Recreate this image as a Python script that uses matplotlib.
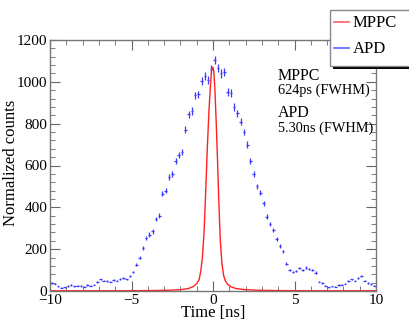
import numpy as np
import matplotlib
matplotlib.use('Agg')
import matplotlib.pyplot as plt
from matplotlib.patches import Rectangle
from matplotlib.lines import Line2D
from matplotlib.ticker import MultipleLocator

# APD: 0.2 ns bins
apd_t = np.arange(-9.9, 10.0, 0.2)
apd_y = [38, 35, 22, 15, 18, 24, 28, 22, 26, 24,
         20, 28, 25, 30, 42, 55, 50, 48, 45, 52,
         50, 58, 62, 55, 70, 90, 125, 160, 205, 255,
         270, 285, 345, 360, 465, 480, 545, 560, 620, 650,
         665, 770, 845, 860, 935, 940, 1005, 1030, 1010, 1060,
         1105, 1065, 1040, 1045, 950, 945, 880, 850, 810, 760,
         700, 620, 560, 500, 470, 420, 355, 320, 290, 250,
         215, 190, 130, 100, 90, 95, 110, 100, 112, 105,
         100, 88, 45, 38, 25, 18, 22, 20, 28, 30,
         35, 48, 55, 50, 62, 70, 50, 38, 32, 25]

# MPPC: sharp peak
mppc_t = [-10, -6, -4, -3, -2, -1.5, -1.2, -1.0, -0.85, -0.75, -0.65, -0.55,
          -0.45, -0.35, -0.25, -0.15, -0.08, 0.0, 0.05, 0.12, 0.2, 0.28, 0.36,
          0.45, 0.55, 0.65, 0.75, 0.9, 1.1, 1.4, 2, 3, 4, 6, 10]
mppc_y = [1, 1, 2, 3, 6, 12, 22, 35, 55, 95, 160, 280,
          470, 680, 860, 990, 1060, 1070, 1050, 960, 800, 620, 420,
          240, 130, 75, 50, 32, 20, 12, 6, 3, 2, 1, 1]

plt.rcParams['font.family'] = ['Liberation Serif', 'DejaVu Serif']

fig = plt.figure(figsize=(4.09, 3.21), dpi=100)
ax = fig.add_axes([50/409, 1-291/321, 326/409, 251/321])

apd_y = np.array(apd_y, dtype=float)
ax.errorbar(apd_t, apd_y, xerr=0.08, yerr=0.6*np.sqrt(apd_y), fmt='none',
            ecolor='#3a3aff', elinewidth=0.9, capsize=0)
ax.plot(mppc_t, mppc_y, color='#ff2020', lw=1.0)

ax.set_xlim(-10, 10)
ax.set_ylim(0, 1200)
ax.xaxis.set_major_locator(MultipleLocator(5))
ax.xaxis.set_minor_locator(MultipleLocator(1))
ax.yaxis.set_major_locator(MultipleLocator(200))
ax.yaxis.set_minor_locator(MultipleLocator(40))
ax.tick_params(which='both', direction='in', top=True, right=True,
               color='#666666', labelsize=11, pad=2)
ax.tick_params(which='major', length=7)
ax.tick_params(which='minor', length=3.5)
for s in ax.spines.values():
    s.set_color('#777777')
    s.set_linewidth(1.0)

ax.set_xlabel('Time [ns]', fontsize=12, labelpad=-1)
ax.set_ylabel('Normalized counts', fontsize=12)
ax.yaxis.set_label_coords(-0.095, 0.51)

ax.text(278/409, 1-76/321, 'MPPC', transform=fig.transFigure, fontsize=11.5, va='center')
ax.text(278/409, 1-90/321, '624ps (FWHM)', transform=fig.transFigure, fontsize=10.3, va='center')
ax.text(278/409, 1-113/321, 'APD', transform=fig.transFigure, fontsize=11.5, va='center')
ax.text(278/409, 1-128/321, '5.30ns (FWHM)', transform=fig.transFigure, fontsize=10.3, va='center')

# legend box with shadow
fig.patches.append(Rectangle((333/409, 1-69/321), 80/409, 58/321,
                             transform=fig.transFigure, facecolor='black',
                             edgecolor='none', zorder=1))
fig.patches.append(Rectangle((330/409, 1-66/321), 80/409, 56/321,
                             transform=fig.transFigure, facecolor='white',
                             edgecolor='#888888', lw=1, zorder=2))
handles = [Line2D([], [], color='#ff6060', lw=1.2),
           Line2D([], [], color='#6060ff', lw=1.2)]
leg = fig.legend(handles, ['MPPC', 'APD'], loc='upper left',
                 bbox_to_anchor=(331/409, 1-12/321), frameon=False,
                 fontsize=12, handlelength=0.9, handletextpad=0.2,
                 labelspacing=0.6, borderaxespad=0, borderpad=0.2)
leg.set_zorder(3)

fig.savefig('out.png', dpi=100)
